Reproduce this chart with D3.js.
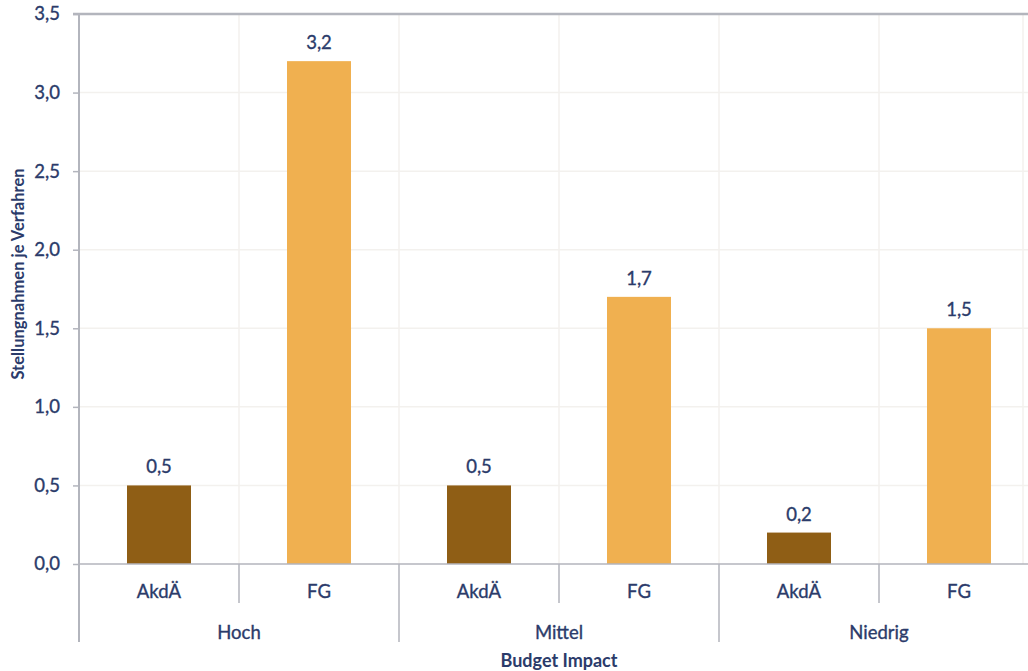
<!DOCTYPE html>
<html>
<head>
<meta charset="utf-8">
<script src="https://cdn.jsdelivr.net/npm/d3@7"></script>
<style>
  html, body { margin: 0; padding: 0; background: #fff; }
  svg { display: block; font-family: Lato, "Open Sans", sans-serif; }
  .lbl { stroke: #2b3b6a; stroke-width: 0.35px; }
</style>
</head>
<body>
<svg id="chart" width="1028" height="671"></svg>
<script>
// Budget-impact groups and the two commenting bodies within each group
const groups = ["Hoch", "Mittel", "Niedrig"];
const bodies = ["AkdÄ", "FG"];
// Statements per procedure, one array per body, aligned with groups
const akdaeValues = [0.5, 0.5, 0.2];
const fgValues = [3.2, 1.7, 1.5];
const yTicks = [0, 0.5, 1.0, 1.5, 2.0, 2.5, 3.0, 3.5];
const yTitle = "Stellungnahmen je Verfahren";
const xTitle = "Budget Impact";

const rows = [];
groups.forEach((g, i) => {
  rows.push({ group: g, body: bodies[0], value: akdaeValues[i] });
  rows.push({ group: g, body: bodies[1], value: fgValues[i] });
});

const colors = { "AkdÄ": "#8f5e15", "FG": "#f0b050" };
const textColor = "#2b3b6a";
const axisColor = "#b3b5bd";
const gridColor = "#f3f1ee";
const labelSize = 18.5;

const svg = d3.select("#chart");
const mLeft = 79, mRight = 1039, mTop = 14, mBottom = 564;

const x0 = d3.scaleBand().domain(groups).range([mLeft, mRight]).padding(0);
const x1 = d3.scaleBand().domain(bodies).range([0, x0.bandwidth()]).paddingInner(0.6).paddingOuter(0.3);
const y = d3.scaleLinear().domain([0, 3.5]).range([mBottom, mTop]);
const fmt = v => d3.format(".1f")(v).replace(".", ",");

// horizontal gridlines
svg.append("g").selectAll("line").data(yTicks.slice(1, -1)).join("line")
  .attr("x1", mLeft).attr("x2", mRight)
  .attr("y1", d => y(d)).attr("y2", d => y(d))
  .attr("stroke", gridColor).attr("stroke-width", 1.5);

// vertical gridlines at every sub-category boundary
const slotEdges = [];
groups.forEach(g => {
  slotEdges.push(x0(g) + x0.bandwidth() / 2);
  if (x0(g) > mLeft) slotEdges.push(x0(g));
});
slotEdges.push(1023);
svg.append("g").selectAll("line").data(slotEdges).join("line")
  .attr("x1", d => d).attr("x2", d => d)
  .attr("y1", mTop).attr("y2", mBottom)
  .attr("stroke", gridColor).attr("stroke-width", 1.5);

// bars
svg.append("g").selectAll("rect").data(rows).join("rect")
  .attr("x", d => x0(d.group) + x1(d.body))
  .attr("width", x1.bandwidth())
  .attr("y", d => y(d.value))
  .attr("height", d => y(0) - y(d.value))
  .attr("fill", d => colors[d.body]);

// value labels
svg.append("g").selectAll("text").data(rows).join("text")
  .attr("class", "lbl")
  .attr("x", d => x0(d.group) + x1(d.body) + x1.bandwidth() / 2)
  .attr("y", d => y(d.value) - 12)
  .attr("text-anchor", "middle")
  .attr("fill", textColor)
  .attr("font-size", labelSize)
  .text(d => fmt(d.value));

// y axis
const yAxis = svg.append("g").attr("transform", `translate(${mLeft},0)`)
  .call(d3.axisLeft(y).tickValues(yTicks).tickFormat(fmt).tickSize(6).tickPadding(13));
yAxis.select(".domain").remove();
yAxis.selectAll(".tick line").attr("stroke", axisColor).attr("stroke-width", 1.5);
yAxis.selectAll(".tick text").attr("class", "lbl").attr("fill", textColor).attr("font-size", labelSize)
  .attr("font-family", "Lato, 'Open Sans', sans-serif");

svg.append("line").attr("x1", mLeft).attr("x2", mLeft).attr("y1", mTop).attr("y2", 642)
  .attr("stroke", axisColor).attr("stroke-width", 2);
svg.append("line").attr("x1", 73).attr("x2", 1028).attr("y1", mTop).attr("y2", mTop)
  .attr("stroke", axisColor).attr("stroke-width", 2.5);
svg.append("line").attr("x1", mLeft).attr("x2", 1028).attr("y1", mBottom).attr("y2", mBottom)
  .attr("stroke", axisColor).attr("stroke-width", 1.5);

// category axis: inner separators and labels
const inner = svg.append("g");
groups.forEach(g => {
  inner.append("line")
    .attr("x1", x0(g) + x0.bandwidth() / 2).attr("x2", x0(g) + x0.bandwidth() / 2)
    .attr("y1", mBottom).attr("y2", 603)
    .attr("stroke", axisColor).attr("stroke-width", 1.5);
  bodies.forEach((b, j) => {
    inner.append("text")
      .attr("class", "lbl")
      .attr("x", x0(g) + x0.bandwidth() / 4 * (2 * j + 1))
      .attr("y", 598)
      .attr("text-anchor", "middle")
      .attr("fill", textColor).attr("font-size", labelSize)
      .text(b);
  });
});

// outer group separators and labels
svg.append("g").selectAll("line").data(groups.slice(1)).join("line")
  .attr("x1", d => x0(d)).attr("x2", d => x0(d))
  .attr("y1", mBottom).attr("y2", 642)
  .attr("stroke", axisColor).attr("stroke-width", 1.5);
svg.append("g").selectAll("text").data(groups).join("text")
  .attr("class", "lbl")
  .attr("x", d => x0(d) + x0.bandwidth() / 2)
  .attr("y", 639)
  .attr("text-anchor", "middle")
  .attr("fill", textColor).attr("font-size", labelSize)
  .text(d => d);

// axis titles
svg.append("text")
  .attr("x", (mLeft + mRight) / 2).attr("y", 667)
  .attr("text-anchor", "middle")
  .attr("fill", textColor).attr("font-size", 18).attr("font-weight", 700)
  .text(xTitle);
svg.append("text")
  .attr("transform", `translate(24,274) rotate(-90)`)
  .attr("text-anchor", "middle")
  .attr("fill", textColor).attr("font-size", 16.5).attr("font-weight", 700)
  .text(yTitle);
</script>
</body>
</html>
